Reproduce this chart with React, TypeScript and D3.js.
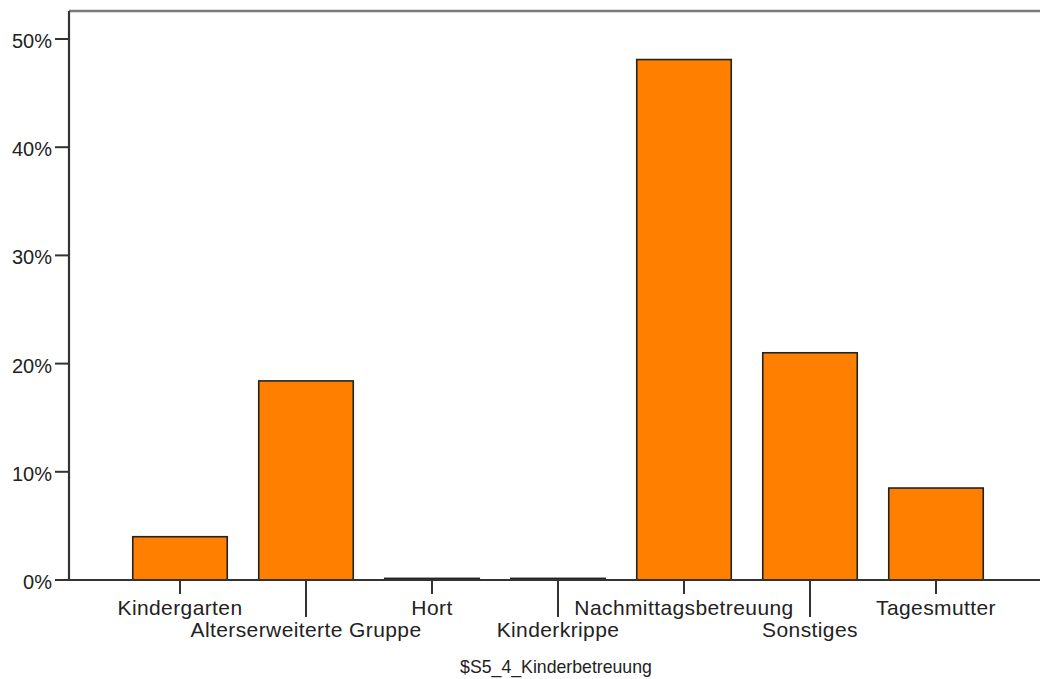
import React from "react";
import * as d3 from "d3";

const categories = [
  "Kindergarten",
  "Alterserweiterte Gruppe",
  "Hort",
  "Kinderkrippe",
  "Nachmittagsbetreuung",
  "Sonstiges",
  "Tagesmutter",
];
const percentValues = [4.0, 18.4, 0.15, 0.15, 48.1, 21.0, 8.5];
const yTicks = [0, 10, 20, 30, 40, 50];
const axisTitle = "$S5_4_Kinderbetreuung";

const W = 1040;
const H = 679;
const axisX = 69;
const baseY = 580;
const topY = 11;

export default function App() {
  const x = d3
    .scaleBand<string>()
    .domain(categories)
    .range([117, 999])
    .paddingInner(0.25)
    .paddingOuter(0.125);
  const y = d3.scaleLinear().domain([0, 50]).range([baseY, 39]);
  const font = "'Liberation Sans', Arial, sans-serif";

  return (
    <svg
      width={W}
      height={H}
      style={{ position: "absolute", left: 0, top: 0, background: "#fff" }}
    >
      {/* top frame */}
      <line x1={axisX} x2={W} y1={topY} y2={topY} stroke="#7a7a7a" strokeWidth={2.5} />
      {/* bars */}
      {categories.map((c, i) => (
        <rect
          key={c}
          x={x(c)!}
          y={y(percentValues[i])}
          width={x.bandwidth()}
          height={baseY - y(percentValues[i])}
          fill="#FF8000"
          stroke="#222"
          strokeWidth={1.6}
        />
      ))}
      {/* y axis */}
      <line x1={axisX} x2={axisX} y1={topY} y2={baseY} stroke="#333" strokeWidth={2.2} />
      {yTicks.map((t) => (
        <g key={t}>
          <line x1={55} x2={axisX} y1={y(t)} y2={y(t)} stroke="#333" strokeWidth={2} />
          <text
            x={52}
            y={y(t)}
            dy={9}
            textAnchor="end"
            fontFamily={font}
            fontSize={20}
            fill="#222"
          >
            {t}%
          </text>
        </g>
      ))}
      {/* x axis */}
      <line x1={axisX} x2={W} y1={baseY} y2={baseY} stroke="#333" strokeWidth={2.2} />
      {categories.map((c, i) => {
        const cx = x(c)! + x.bandwidth() / 2;
        const longTick = i % 2 === 1;
        return (
          <g key={c}>
            <line
              x1={cx}
              x2={cx}
              y1={baseY}
              y2={longTick ? 617 : 594}
              stroke="#333"
              strokeWidth={2}
            />
            <text
              x={cx}
              y={longTick ? 637 : 615}
              textAnchor="middle"
              fontFamily={font}
              fontSize={21}
              letterSpacing={0.4}
              fill="#222"
            >
              {c}
            </text>
          </g>
        );
      })}
      <text
        x={556}
        y={673}
        textAnchor="middle"
        fontFamily={font}
        fontSize={17.7}
        fill="#222"
      >
        {axisTitle}
      </text>
    </svg>
  );
}
